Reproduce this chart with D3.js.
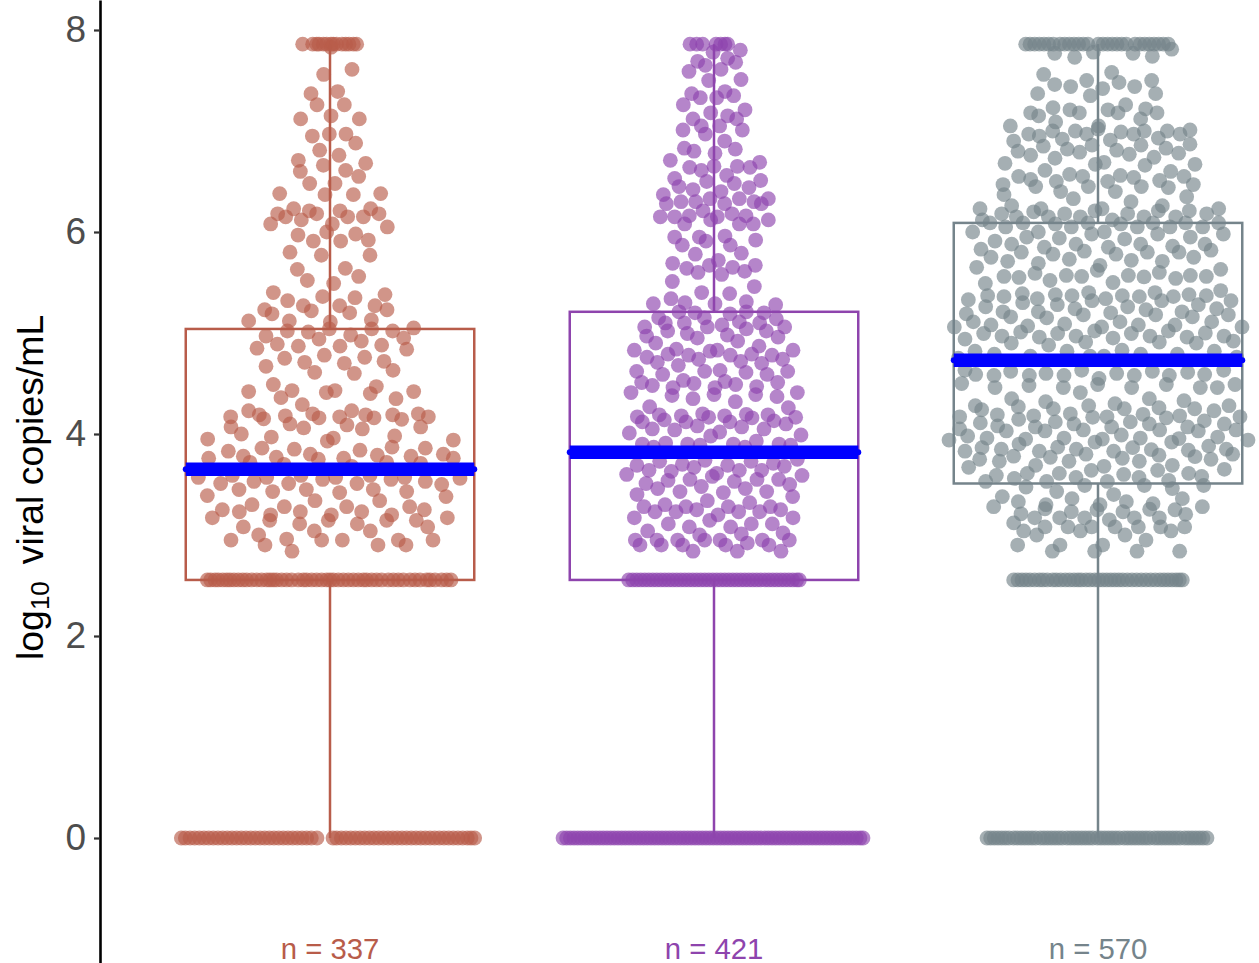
<!DOCTYPE html>
<html><head><meta charset="utf-8">
<script src="https://cdnjs.cloudflare.com/ajax/libs/d3/7.8.5/d3.min.js"></script>
<style>html,body{margin:0;padding:0;background:#fff}svg{display:block}text{font-family:"Liberation Sans",Arial,sans-serif}</style>
</head><body><svg id="c" width="1259" height="963"></svg>
<script>
const categories=["A","B","C"];
const tickValues=[0,2,4,6,8];
const yTitle=["log","10","viral copies/mL"];
const nLabels=["n = 337","n = 421","n = 570"];
const colors=["#B85C4A","#8E44AD","#75848B"];
const boxQ1=[2.555,2.555,3.51];
const boxQ3=[5.04,5.21,6.09];
const medians=[3.65,3.82,4.73];
const whiskerLow=[0,0,0];
const whiskerHigh=[7.86,7.86,7.86];
const floorValue=0, lodValue=2.555, topValue=7.86;

// swarm offset (1/3 px units, passed through offsetScale), log10 value
const redPoints=[[3,7.83],[66,7.61],[-19,7.56],[-57,7.37],[23,7.39],[-39,7.26],[43,7.26],[-88,7.12],[3,7.15],[88,7.12],[-53,6.95],[-2,6.97],[48,6.97],[77,6.88],[-31,6.81],[27,6.76],[-95,6.71],[107,6.68],[-20,6.66],[-89,6.60],[47,6.61],[86,6.55],[-61,6.48],[15,6.48],[-151,6.38],[-15,6.37],[70,6.37],[152,6.38],[-109,6.23],[-62,6.21],[30,6.21],[122,6.23],[-157,6.18],[-133,6.15],[-40,6.18],[53,6.15],[100,6.15],[147,6.18],[-86,6.12],[-178,6.08],[7,6.08],[172,6.05],[-10,6.00],[-96,5.97],[77,5.98],[115,5.92],[-50,5.91],[32,5.91],[-120,5.80],[-26,5.77],[120,5.77],[-98,5.63],[46,5.64],[86,5.56],[-68,5.52],[11,5.49],[-170,5.40],[165,5.38],[-22,5.36],[75,5.35],[-127,5.32],
[-196,5.23],[-174,5.19],[-80,5.27],[-56,5.22],[29,5.27],[59,5.20],[135,5.27],[171,5.23],[-244,5.12],[-122,5.12],[1,5.11],[124,5.13],[251,5.05],[-128,5.02],[-65,5.01],[-2,5.04],[62,4.98],[125,5.04],[188,5.02],[-192,4.97],[221,4.95],[-33,4.94],[94,4.92],[-158,4.89],[-95,4.87],[30,4.87],[155,4.88],[-219,4.85],[230,4.84],[-17,4.78],[-136,4.75],[104,4.76],[-76,4.71],[43,4.70],[162,4.72],[-192,4.67],[189,4.63],[-46,4.61],[73,4.60],[-170,4.49],[139,4.47],[-244,4.42],[-114,4.43],[-11,4.41],[15,4.43],[121,4.40],[251,4.42],[-147,4.36],[198,4.35],[-83,4.29],[-244,4.23],[65,4.23],[-212,4.19],[-52,4.20],[107,4.19],[188,4.19],[265,4.20],[-298,4.17],[-199,4.15],[-134,4.18],[-33,4.16],[29,4.17],[132,4.16],[215,4.145],[295,4.17],[-120,4.10],[51,4.09],[-297,4.07],[272,4.07],[-79,4.06],[97,4.05],[-266,4.00],[-176,3.97],[194,3.98],[-367,3.95],[370,3.94],[10,3.96],[-8,3.93],[-204,3.86],[186,3.87],[-107,3.85],[-305,3.83],[90,3.84],[286,3.86],[-59,3.80],[340,3.80],[-364,3.76],[-260,3.78],[-161,3.77],[142,3.79],[243,3.78],[370,3.76],[-35,3.75],[41,3.76],[-240,3.72],[170,3.72],[272,3.71],[-138,3.70],[65,3.68],
[-395,3.57],[-293,3.59],[-190,3.57],[-87,3.59],[17,3.57],[120,3.59],[224,3.57],[390,3.56],[-328,3.51],[-228,3.53],[-124,3.51],[-22,3.55],[81,3.51],[183,3.55],[286,3.53],[335,3.50],[-273,3.45],[-172,3.43],[-71,3.45],[29,3.42],[130,3.45],[230,3.43],[-368,3.39],[348,3.38],[-45,3.34],[149,3.34],[-234,3.30],[-137,3.28],[50,3.28],[239,3.28],[-323,3.25],[283,3.25],[-272,3.23],[-89,3.23],[95,3.23],[-178,3.20],[4,3.20],[185,3.20],[-353,3.17],[352,3.17],[-181,3.145],[-5,3.145],[170,3.145],[259,3.145],[-91,3.11],[82,3.11],[-260,3.08],[293,3.08],[-47,3.04],[121,3.04],[-214,3.00],[-297,2.95],[-130,2.96],[-25,2.95],[37,2.95],[205,2.95],[309,2.95],[-195,2.90],[144,2.90],[228,2.90],[-114,2.84]];
const redTop=[-82,-52,-40,-33,-20,-10,3,10,20,36,47,57,70,80];
const redLod=[-368,-358,-345,-335,-322,-310,-300,-288,-275,-262,-250,-235,-220,-205,-190,-180,-170,-160,-145,-130,-115,-95,-80,-70,-55,-40,-25,-10,0,10,25,40,55,70,85,100,110,125,140,155,175,190,205,220,240,255,270,290,300,315,335,350,363];
const redFloor=[-446,-434,-420,-406,-392,-378,-364,-350,-336,-322,-308,-294,-280,-266,-252,-238,-224,-210,-196,-182,-168,-154,-140,-126,-112,-98,-84,-70,-56,-39,9,20,34,48,62,76,90,104,118,132,146,160,174,188,202,216,230,244,258,272,286,300,314,328,342,356,370,384,398,412,423,434];

const purplePoints=[[79,7.80],[-3,7.78],[-49,7.69],[41,7.72],[-26,7.65],[65,7.68],[-75,7.59],[21,7.61],[81,7.51],[-16,7.50],[-67,7.37],[33,7.39],[-41,7.33],[59,7.35],[8,7.33],[-92,7.26],[93,7.21],[-10,7.18],[41,7.15],[-63,7.12],[68,7.12],[-38,7.05],[17,7.05],[-93,7.01],[85,7.01],[-26,6.97],[32,6.90],[-89,6.83],[-60,6.80],[64,6.82],[3,6.78],[-131,6.71],[137,6.69],[-73,6.64],[0,6.65],[70,6.65],[108,6.64],[-38,6.61],[38,6.56],[-118,6.53],[140,6.51],[-22,6.50],[61,6.48],[-105,6.45],[105,6.44],[-63,6.42],[21,6.40],[-152,6.37],[-12,6.33],[76,6.33],[163,6.33],[-99,6.30],[-55,6.30],[120,6.30],[-143,6.28],[32,6.28],[142,6.28],[-33,6.21],[54,6.18],[-74,6.16],[96,6.16],[-161,6.15],[-118,6.15],[10,6.15],[-10,6.12],[-88,6.08],[76,6.08],[118,6.08],[163,6.12],[-118,5.95],[-44,5.95],[33,5.96],[-24,5.91],[125,5.92],[-95,5.87],[49,5.87],[-56,5.78],[82,5.79],[13,5.72],[-124,5.69],[-14,5.67],[124,5.67],[56,5.65],[-82,5.64],[-48,5.60],[92,5.61],[23,5.58],[-125,5.51],[121,5.46],[-37,5.40],[47,5.39],[-129,5.34],[97,5.31],[-87,5.30],[185,5.28],[-182,5.29],[3,5.29],
[-105,5.21],[-57,5.20],[48,5.19],[97,5.21],[150,5.20],[-166,5.15],[-29,5.15],[187,5.14],[-146,5.10],[-89,5.10],[76,5.11],[137,5.10],[24,5.08],[-208,5.06],[-20,5.06],[97,5.04],[212,5.06],[-139,5.02],[-80,4.995],[40,4.98],[157,5.02],[-202,4.97],[192,4.96],[-50,4.95],[71,4.92],[-175,4.90],[135,4.87],[-113,4.84],[-239,4.83],[-12,4.82],[10,4.83],[237,4.83],[-138,4.79],[-76,4.78],[49,4.78],[113,4.79],[174,4.78],[-201,4.76],[-46,4.74],[206,4.74],[80,4.72],[-170,4.71],[143,4.70],[-107,4.68],[-232,4.62],[18,4.63],[221,4.62],[-28,4.62],[96,4.61],[-154,4.59],[159,4.59],[-92,4.53],[-217,4.51],[33,4.52],[-60,4.50],[191,4.51],[65,4.49],[-185,4.48],[-123,4.46],[128,4.47],[3,4.46],[-249,4.41],[250,4.41],[0,4.39],[-126,4.38],[125,4.39],[189,4.37],[-63,4.35],[64,4.32],[-193,4.27],[223,4.26],[-164,4.19],[-98,4.18],[-34,4.20],[32,4.18],[97,4.195],[162,4.19],[-230,4.17],[245,4.165],[-16,4.165],[114,4.16],[-149,4.14],[180,4.13],[-215,4.12],[-84,4.12],[48,4.12],[-50,4.08],[216,4.10],[83,4.07],[-185,4.05],[150,4.05],[-118,4.04],[17,4.02],[-254,4.01],[261,3.99],[-10,3.98],[127,3.93],[-215,3.90],[-145,3.91],[-79,3.90],[-42,3.89],[58,3.90],[195,3.90],[230,3.89],[-181,3.87],[93,3.87],
[250,3.75],[-163,3.73],[-27,3.74],[111,3.73],[-95,3.70],[-231,3.69],[41,3.69],[178,3.71],[211,3.68],[-60,3.67],[-195,3.64],[76,3.64],[-128,3.63],[143,3.64],[-262,3.60],[264,3.59],[8,3.61],[-5,3.58],[-138,3.54],[129,3.55],[-72,3.55],[61,3.53],[194,3.55],[-204,3.51],[227,3.50],[-38,3.48],[-169,3.46],[94,3.46],[-102,3.43],[158,3.43],[28,3.42],[-231,3.40],[236,3.38],[-20,3.34],[107,3.32],[-147,3.30],[-210,3.28],[-84,3.28],[43,3.28],[169,3.28],[200,3.25],[-52,3.25],[-177,3.23],[-114,3.23],[74,3.23],[137,3.23],[12,3.20],[-239,3.17],[237,3.17],[-13,3.145],[175,3.11],[-137,3.11],[112,3.11],[-74,3.08],[50,3.08],[-199,3.04],[207,3.02],[-43,3.00],[82,3.01],[-236,2.95],[-171,2.95],[-109,2.95],[-28,2.95],[18,2.95],[145,2.95],[226,2.95],[100,2.92],[-222,2.90],[-158,2.90],[-94,2.90],[35,2.90],[165,2.90],[-63,2.84],[70,2.84],[201,2.84]];
const purpleTop=[-72,-52,-34,6,20,33,41];
const purpleLod=[-256,-244,-232,-220,-208,-196,-184,-172,-160,-148,-136,-124,-112,-100,-88,-76,-64,-52,-40,-28,-16,-4,8,20,32,44,56,68,80,92,104,116,128,140,152,164,176,188,200,212,224,236,248,256];
const purpleFloor=[-453,-442,-431,-420,-409,-398,-387,-376,-365,-354,-343,-332,-321,-310,-299,-288,-277,-266,-255,-244,-233,-222,-211,-200,-189,-178,-167,-156,-145,-134,-123,-112,-101,-90,-79,-68,-57,-46,-35,-24,-13,-2,9,20,31,42,53,64,75,86,97,108,119,130,141,152,163,174,185,196,207,218,229,240,251,262,273,284,295,306,317,328,339,350,361,372,383,394,405,416,427,438,447];

const greyPoints=[[221,7.81],[-130,7.77],[-70,7.73],[-14,7.78],[105,7.77],[163,7.74],[-163,7.56],[41,7.58],[-34,7.50],[161,7.50],[63,7.48],[-130,7.46],[-82,7.44],[110,7.44],[14,7.42],[-181,7.37],[173,7.37],[-23,7.35],[-135,7.23],[83,7.26],[-84,7.21],[30,7.21],[143,7.22],[-202,7.18],[-56,7.18],[60,7.18],[177,7.18],[-178,7.15],[128,7.12],[-127,7.09],[-263,7.05],[2,7.05],[0,7.02],[208,7.00],[276,7.01],[-136,7.00],[-68,7.00],[69,6.99],[139,7.00],[-208,6.97],[-34,6.97],[107,6.97],[246,6.97],[-176,6.95],[181,6.93],[-107,6.92],[37,6.91],[-253,6.90],[-18,6.86],[129,6.86],[276,6.87],[-164,6.85],[204,6.83],[56,6.81],[-92,6.82],[-240,6.80],[-55,6.79],[94,6.77],[242,6.78],[-202,6.76],[168,6.74],[-129,6.73],[18,6.69],[-279,6.68],[291,6.67],[141,6.66],[-8,6.67],[-159,6.61],[218,6.60],[-85,6.57],[67,6.56],[-238,6.55],[-46,6.55],[107,6.54],[258,6.55],[-202,6.52],[-125,6.50],[29,6.50],[185,6.51],[-285,6.47],[286,6.47],[-187,6.45],[-29,6.45],[130,6.45],[211,6.44],[-112,6.40],[52,6.40],[-282,6.37],[266,6.35],[-74,6.33],[99,6.30],[-259,6.26],[193,6.26],[-354,6.23],[362,6.23],[-171,6.23],[12,6.23],[-193,6.20],[-9,6.21],[181,6.21],[274,6.21],[-289,6.18],[-100,6.18],[89,6.18],[326,6.18],[-245,6.15],[-149,6.15],[-53,6.15],[43,6.12],[138,6.15],[233,6.15],[-347,6.12],[-225,6.09],[-128,6.08],[-30,6.09],[68,6.08],[165,6.09],[263,6.09],[-324,6.09],[362,6.09],[-277,6.05],[-179,6.00],[-80,6.05],[19,6.00],[118,6.05],[216,6.05],[314,6.05],[-376,6.00],[-19,5.98],[179,5.98],[376,5.98],[-214,5.95],[277,5.95],[-116,5.94],[80,5.93],[-309,5.91],[-259,5.88],[-66,5.88],[128,5.88],[321,5.88],[-161,5.85],[31,5.85],[224,5.86],[-351,5.83],[-41,5.81],[148,5.80],[339,5.82],[-230,5.80],[-135,5.78],[54,5.78],[243,5.80],[-321,5.75],[-86,5.73],[287,5.75],[100,5.72],[-271,5.71],[193,5.71],[-179,5.69],[6,5.67],[-364,5.65],[368,5.63],[-2,5.62],[-189,5.59],[184,5.60],[-282,5.56],[-95,5.57],[91,5.57],[277,5.57],[-237,5.55],[-49,5.56],[138,5.555],[325,5.56],[-144,5.52],[233,5.54],[45,5.50],[-338,5.49],[-227,5.39],[-28,5.40],[171,5.40],[368,5.42],[-128,5.38],[73,5.37],[273,5.38],[-331,5.37],[-282,5.36],[-182,5.34],[-78,5.37],[23,5.34],[124,5.36],[226,5.36],[325,5.37],[-389,5.33],[399,5.32],[-18,5.32],[191,5.32],[-226,5.30],[-337,5.26],[-122,5.28],[89,5.26],[301,5.28],
[356,5.24],[-69,5.24],[-395,5.19],[-285,5.21],[-179,5.21],[-262,5.16],[-154,5.15],[-44,5.18],[38,5.20],[144,5.23],[173,5.18],[252,5.21],[283,5.16],[391,5.18],[-374,5.11],[66,5.11],[341,5.11],[-431,5.06],[-321,5.08],[-211,5.07],[-100,5.09],[11,5.06],[121,5.08],[231,5.08],[432,5.06],[-10,5.02],[211,5.02],[-343,4.995],[-232,5.01],[-121,4.995],[100,4.995],[322,5.00],[-66,4.97],[156,4.97],[-288,4.97],[378,4.97],[-176,4.96],[45,4.95],[267,4.96],[-399,4.94],[406,4.92],[-37,4.91],[184,4.91],[-260,4.90],[295,4.90],[-148,4.88],[-369,4.82],[72,4.83],[-93,4.82],[349,4.82],[-311,4.79],[-203,4.77],[128,4.79],[238,4.79],[18,4.77],[-419,4.75],[416,4.76],[-24,4.77],[-399,4.63],[-262,4.62],[-367,4.59],[-156,4.60],[-49,4.63],[163,4.62],[56,4.60],[269,4.61],[377,4.63],[-312,4.58],[-102,4.58],[109,4.58],[320,4.59],[-206,4.58],[214,4.58],[3,4.55],[-409,4.50],[411,4.49],[-1,4.49],[-207,4.48],[205,4.49],[-309,4.46],[-104,4.46],[101,4.46],[307,4.46],[358,4.46],[-53,4.41],[-259,4.35],[154,4.35],[-157,4.32],[51,4.30],[258,4.33],[-368,4.28],[-28,4.28],[393,4.28],[-239,4.27],[183,4.26],[-134,4.25],[79,4.25],[290,4.25],[-349,4.24],[348,4.23],[-83,4.20],[135,4.195],[-302,4.19],[-193,4.18],[245,4.18],[27,4.17],[-415,4.17],[426,4.17],[-16,4.165],[205,4.16],[-238,4.145],[319,4.13],[-353,4.11],[-128,4.12],[97,4.12],[-72,4.10],[379,4.10],[154,4.10],[-301,4.08],[41,4.07],[-188,4.07],[269,4.07],[-415,4.05],[414,4.04],[-44,4.04],[185,4.04],[-275,4.03],[-159,4.03],[301,4.03],[70,3.99],[-391,3.98],[359,3.97],[-102,3.96],[127,3.96],[-333,3.96],[-217,3.95],[13,3.95],[243,3.955],[-447,3.94],[450,3.94],[-9,3.92],[221,3.92],[-237,3.90],[332,3.88],[-121,3.87],[104,3.865],[-348,3.865],[-65,3.85],[47,3.83],[385,3.85],[-399,3.83],[-290,3.85],[160,3.845],[-176,3.83],[271,3.84],[-36,3.80],[404,3.80],[-143,3.77],[183,3.79],[-253,3.78],[291,3.775],[73,3.76],[339,3.75],[-355,3.75],[-87,3.73],[-296,3.73],[124,3.73],[-187,3.69],[223,3.69],[-388,3.67],[18,3.68],[379,3.65],[-20,3.64],[179,3.64],[-212,3.61],[-116,3.61],[77,3.60],[272,3.61],[-305,3.59],[-66,3.57],[123,3.57],[311,3.58],[-251,3.56],[-337,3.53],[-154,3.53],[28,3.53],[212,3.54],[-40,3.49],[139,3.49],[317,3.49],[-216,3.475],[223,3.46],[-124,3.43],[47,3.40],[-287,3.38],[-78,3.36],[253,3.36],[-239,3.33],[85,3.33],[-156,3.30],[6,3.30],[165,3.31],[-313,3.28],[313,3.28],[-159,3.26],[231,3.25],[-3,3.25],[155,3.255],[-80,3.23],[75,3.23],[-231,3.21],[263,3.205],[109,3.17],[-190,3.17],[-115,3.17],[-40,3.17],[184,3.17],[34,3.15],[-253,3.12],[121,3.08],[-159,3.08],[-90,3.08],[-19,3.08],[51,3.08],[188,3.08],[260,3.08],[-223,3.04],[-53,3.04],[219,3.04],[-184,3.00],[81,3.00],[144,2.95],[-241,2.90],[-114,2.90],[14,2.90],[-137,2.84],[-10,2.84],[117,2.84],[245,2.84]];
const greyTop=[-217,-204,-190,-176,-162,-148,-134,-114,-100,-86,-72,-58,-44,-30,1,15,29,43,57,71,85,111,126,140,154,168,182,196,211];
const greyLod=[-253,-240,-228,-216,-204,-190,-176,-165,-152,-136,-125,-112,-98,-85,-72,-60,-50,-36,-24,-10,2,14,26,38,50,62,74,88,102,116,130,144,158,172,186,198,210,222,234,244,253];
const greyFloor=[-333,-322,-311,-300,-289,-278,-267,-253,-242,-231,-220,-209,-198,-187,-173,-162,-151,-140,-129,-118,-107,-93,-82,-71,-60,-49,-38,-27,-16,-2,9,20,31,42,53,64,78,89,100,111,122,133,144,155,169,180,191,202,213,224,235,246,260,271,282,293,304,315,327];

const pointsByGroup=[redPoints,purplePoints,greyPoints];
const topByGroup=[redTop,purpleTop,greyTop];
const lodByGroup=[redLod,purpleLod,greyLod];
const floorByGroup=[redFloor,purpleFloor,greyFloor];

const svg=d3.select("#c");
const y=d3.scaleLinear().domain([-1.2376,8.297]).range([963,0]);
const x=d3.scalePoint().domain(categories).range([330,1098]);
const off=d3.scaleLinear().domain([-480,480]).range([-160,160]);
const boxW=d3.scaleLinear().domain([0,1]).range([0,288.5]);

categories.forEach((cat,i)=>{
  const g=svg.append("g");
  const col=colors[i];
  const cx=x(cat);
  const all=[...pointsByGroup[i],
    ...topByGroup[i].map(o=>[o,topValue]),
    ...lodByGroup[i].map(o=>[o,lodValue]),
    ...floorByGroup[i].map(o=>[o,floorValue])];
  g.selectAll("circle").data(all).join("circle")
    .attr("cx",d=>cx+off(d[0])).attr("cy",d=>y(d[1])).attr("r",7.4)
    .attr("fill",col).attr("fill-opacity",0.65);
  const hw=boxW(0.5);
  g.append("line").attr("x1",cx).attr("x2",cx).attr("y1",y(whiskerHigh[i])).attr("y2",y(boxQ3[i])).attr("stroke",col).attr("stroke-width",2.5);
  g.append("line").attr("x1",cx).attr("x2",cx).attr("y1",y(boxQ1[i])).attr("y2",y(whiskerLow[i])).attr("stroke",col).attr("stroke-width",2.5);
  g.append("rect").attr("x",cx-hw).attr("width",hw*2).attr("y",y(boxQ3[i])).attr("height",y(boxQ1[i])-y(boxQ3[i]))
    .attr("fill","none").attr("stroke",col).attr("stroke-width",2.5);
  g.append("line").attr("x1",cx-hw).attr("x2",cx+hw).attr("y1",y(medians[i])).attr("y2",y(medians[i])).attr("stroke","#0000FF").attr("stroke-width",13.5);
  g.append("line").attr("x1",cx-hw).attr("x2",cx+hw).attr("y1",y(medians[i])).attr("y2",y(medians[i])).attr("stroke","#0000FF").attr("stroke-width",6).attr("stroke-linecap","round");
  g.append("text").attr("x",cx).attr("y",959).attr("text-anchor","middle").attr("font-size",29.3).attr("fill",col).text(nLabels[i]);
});

const ax=svg.append("g").attr("transform","translate(100,0)").call(d3.axisLeft(y).tickValues(tickValues).tickSizeInner(6).tickSizeOuter(0).tickPadding(8).tickFormat(d3.format("d")));
ax.select(".domain").attr("stroke","#000").attr("stroke-width",2.6);
ax.selectAll(".tick line").attr("stroke","#333").attr("stroke-width",2.2);
ax.selectAll(".tick text").attr("fill","#4D4D4D").attr("font-size",37).attr("font-family",'"Liberation Sans",Arial,sans-serif');

const t=svg.append("text").attr("transform","translate(43,660) rotate(-90)").attr("font-size",37.4).attr("fill","#000");
t.append("tspan").text(yTitle[0]);
t.append("tspan").attr("font-size",26).attr("dy",6).text(yTitle[1]);
t.append("tspan").attr("dy",-6).attr("dx",17).text(yTitle[2]);
</script></body></html>
